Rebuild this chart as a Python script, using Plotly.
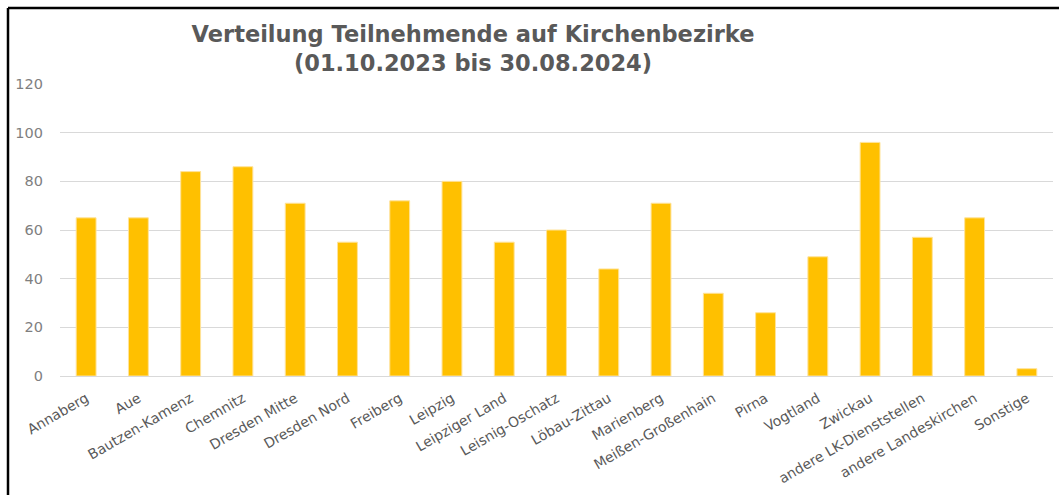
"""Bar chart: Verteilung Teilnehmende auf Kirchenbezirke."""
import plotly.graph_objects as go

BAR_COLOR = "#FFC000"
TEXT_GREY = "#595959"
AXIS_GREY = "#7F7F7F"
GRID_GREY = "#D9D9D9"

bezirke = [
    "Annaberg", "Aue", "Bautzen-Kamenz", "Chemnitz", "Dresden Mitte",
    "Dresden Nord", "Freiberg", "Leipzig", "Leipziger Land", "Leisnig-Oschatz",
    "Löbau-Zittau", "Marienberg", "Meißen-Großenhain", "Pirna", "Vogtland",
    "Zwickau", "andere LK-Dienststellen", "andere Landeskirchen", "Sonstige",
]
teilnehmende = [65, 65, 84, 86, 71, 55, 72, 80, 55, 60, 44, 71, 34, 26, 49, 96, 57, 65, 3]
y_ticks = [0, 20, 40, 60, 80, 100, 120]

fig = go.Figure()
fig.add_trace(go.Bar(
    x=bezirke,
    y=teilnehmende,
    marker=dict(color=BAR_COLOR, line=dict(color="#FFE39A", width=1)),
    showlegend=False,
))

# frame around the chart (left and top edge of the original screenshot)
frame_x = -52 / 993
frame_y = 1 + 76 / 292

fig.update_layout(
    width=1059,
    height=495,
    paper_bgcolor="white",
    plot_bgcolor="white",
    bargap=0.62,
    margin=dict(l=60, r=6, t=84, b=119),
    font=dict(family="DejaVu Sans, sans-serif", color=TEXT_GREY, size=12),
    title=dict(
        text="<b>Verteilung Teilnehmende auf Kirchenbezirke<br>(01.10.2023 bis 30.08.2024)</b>",
        x=473 / 1059,
        xanchor="center",
        y=0.916,
        yanchor="top",
        font=dict(family="DejaVu Sans, sans-serif", size=22.5, color=TEXT_GREY),
    ),
    xaxis=dict(
        automargin=False,
        tickangle=-30,
        tickfont=dict(family="DejaVu Sans, sans-serif", size=14, color=TEXT_GREY),
        showgrid=False,
        showline=True,
        linecolor=GRID_GREY,
        linewidth=1,
        ticks="",
        ticklabelstandoff=8,
    ),
    yaxis=dict(
        automargin=False,
        range=[0, 120],
        tickvals=y_ticks,
        tickfont=dict(family="DejaVu Sans, sans-serif", size=14.5, color=AXIS_GREY),
        showgrid=True,
        gridcolor=GRID_GREY,
        gridwidth=1,
        zeroline=False,
        ticks="",
        ticklabelstandoff=16,
    ),
    shapes=[
        dict(type="line", xref="paper", yref="paper", x0=frame_x, x1=1.01,
             y0=frame_y, y1=frame_y, line=dict(color="black", width=2.5)),
        dict(type="line", xref="paper", yref="paper", x0=frame_x, x1=frame_x,
             y0=-1, y1=frame_y, line=dict(color="black", width=2.5)),
    ],
)

# drop the default 8px page margin so the figure sits at the window origin
fig.write_html(
    "out.html",
    config={"displayModeBar": False},
    post_script="document.body.style.margin = '0';",
)
